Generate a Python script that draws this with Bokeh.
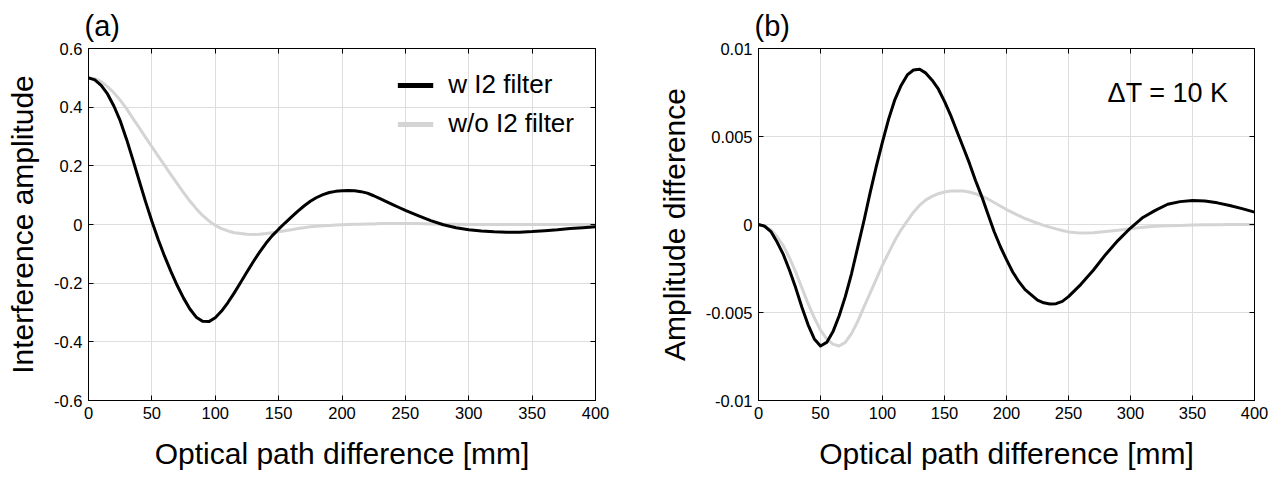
from bokeh.plotting import figure
from bokeh.layouts import row
from bokeh.models import Range1d, FixedTicker, LinearAxis, Label, Legend, LegendItem
from bokeh.embed import file_html
from bokeh.resources import INLINE

# ---------------- data ----------------
opd = [0, 5, 10, 15, 20, 25, 30, 35, 40, 45, 50, 55, 60, 65, 70, 75, 80, 85, 90, 95,
       100, 105, 110, 115, 120, 125, 130, 135, 140, 145, 150, 155, 160, 165, 170, 175,
       180, 185, 190, 195, 200, 205, 210, 215, 220, 225, 230, 235, 240, 245,
       250, 260, 270, 280, 290, 300, 310, 320, 330, 340, 350, 360, 370, 380, 390, 400]

amp_with_i2 = [0.500, 0.493, 0.474, 0.445, 0.404, 0.354, 0.291, 0.221, 0.149, 0.078,
               0.011, -0.051, -0.108, -0.160, -0.208, -0.251, -0.288, -0.316, -0.330, -0.331,
               -0.318, -0.295, -0.266, -0.233, -0.198, -0.162, -0.127, -0.094, -0.064, -0.038,
               -0.016, 0.005, 0.025, 0.045, 0.063, 0.079, 0.092, 0.102, 0.109, 0.113,
               0.115, 0.116, 0.115, 0.112, 0.107, 0.098, 0.088, 0.078, 0.068, 0.058,
               0.048, 0.030, 0.013, -0.001, -0.011, -0.018, -0.022, -0.025, -0.026, -0.026,
               -0.024, -0.021, -0.018, -0.014, -0.011, -0.008]

amp_without_i2 = [0.500, 0.497, 0.487, 0.470, 0.449, 0.424, 0.395, 0.362, 0.330, 0.297,
                  0.265, 0.233, 0.202, 0.170, 0.139, 0.109, 0.080, 0.054, 0.031, 0.012,
                  -0.003, -0.014, -0.022, -0.028, -0.031, -0.033, -0.034, -0.033, -0.031, -0.028,
                  -0.025, -0.021, -0.018, -0.014, -0.011, -0.008, -0.006, -0.004, -0.003, -0.002,
                  -0.001, 0.000, 0.001, 0.001, 0.002, 0.002, 0.003, 0.003, 0.003, 0.003,
                  0.003, 0.003, 0.002, 0.001, 0.001, 0.000, 0.000, 0.000, 0.000, 0.000,
                  0.000, 0.000, 0.000, 0.000, 0.000, 0.000]

diff_with_i2 = [0.0, -0.0001, -0.0004, -0.0010, -0.0017, -0.0026, -0.0036, -0.0047, -0.0057, -0.0065,
                -0.0069, -0.0067, -0.0061, -0.0052, -0.0041, -0.0028, -0.0013, 0.0002, 0.0018, 0.0033,
                0.0047, 0.0060, 0.0071, 0.0079, 0.0085, 0.00878, 0.00882, 0.0086, 0.0082, 0.0077,
                0.0070, 0.0062, 0.0053, 0.0044, 0.0035, 0.0025, 0.0016, 0.0006, -0.0004, -0.00125,
                -0.0020, -0.0027, -0.00325, -0.0037, -0.0040, -0.0043, -0.00445, -0.00452, -0.0045, -0.00437,
                -0.0041, -0.0034, -0.0026, -0.0017, -0.0009, -0.0002, 0.0004, 0.0008, 0.00115, 0.0013,
                0.00136, 0.00133, 0.00123, 0.00108, 0.0009, 0.0007]

diff_without_i2 = [0.0, -0.0001, -0.0003, -0.0007, -0.0012, -0.0019, -0.0027, -0.0036, -0.0045, -0.0053,
                   -0.0060, -0.0065, -0.0068, -0.0069, -0.0067, -0.0062, -0.0055, -0.0047, -0.0039, -0.0031,
                   -0.0023, -0.0016, -0.0009, -0.0003, 0.0002, 0.0007, 0.0011, 0.0014, 0.0016, 0.00175,
                   0.00185, 0.0019, 0.0019, 0.0019, 0.00185, 0.00175, 0.0016, 0.00145, 0.00125, 0.00105,
                   0.00085, 0.00067, 0.0005, 0.00034, 0.0002, 0.00007, -0.00005, -0.00015, -0.00025, -0.00034,
                   -0.00042, -0.00049, -0.00047, -0.0004, -0.00033, -0.00024, -0.00016, -0.0001, -0.00007, -0.00005,
                   -0.00003, -0.00002, -0.00001, 0.0, 0.0, 0.0]

series_names = ["w I2 filter", "w/o I2 filter"]
x_ticks = [0, 50, 100, 150, 200, 250, 300, 350, 400]
x_tick_labels = ["0", "50", "100", "150", "200", "250", "300", "350", "400"]
ya_ticks = [-0.6, -0.4, -0.2, 0, 0.2, 0.4, 0.6]
ya_tick_labels = ["-0.6", "-0.4", "-0.2", "0", "0.2", "0.4", "0.6"]
yb_ticks = [-0.01, -0.005, 0, 0.005, 0.01]
yb_tick_labels = ["-0.01", "-0.005", "0", "0.005", "0.01"]
x_label = "Optical path difference [mm]"
ya_label = "Interference amplitude"
yb_label = "Amplitude difference"
panel_a_tag = "(a)"
panel_b_tag = "(b)"
delta_t_text = "\u0394T = 10 K"

# ---------------- style ----------------
FONT = "Liberation Sans"
BLACK = "#000000"
GRAY = "#d4d4d4"
GRID = "#dddddd"
TICK_FS = "16.5px"
LABEL_FS = "30px"


def make_panel(width, border_left, border_right, ylo, yhi, yticks, ylabels, ylabel, tag, ylab_standoff):
    p = figure(width=width, height=478, x_range=Range1d(0, 400), y_range=Range1d(ylo, yhi),
               output_backend="svg", toolbar_location=None,
               min_border_left=border_left, min_border_right=border_right,
               min_border_top=48, min_border_bottom=78,
               x_axis_label=x_label, y_axis_label=ylabel)
    p.background_fill_color = "white"
    p.border_fill_color = "white"
    p.outline_line_color = BLACK
    p.outline_line_width = 1

    xov = {t: s for t, s in zip(x_ticks, x_tick_labels)}
    yov = {t: s for t, s in zip(yticks, ylabels)}

    for ax in p.xaxis:
        ax.ticker = FixedTicker(ticks=x_ticks)
        ax.major_label_overrides = xov
        ax.major_label_standoff = 6
        ax.axis_label_standoff = 15
    for ax in p.yaxis:
        ax.ticker = FixedTicker(ticks=yticks)
        ax.major_label_overrides = yov
        ax.major_label_standoff = 6
        ax.axis_label_standoff = ylab_standoff
    for ax in p.axis:
        ax.major_tick_in = 5
        ax.major_tick_out = 0
        ax.minor_tick_line_color = None
        ax.axis_line_color = BLACK
        ax.major_tick_line_color = BLACK
        ax.major_label_text_font = FONT
        ax.major_label_text_font_size = TICK_FS
        ax.major_label_text_color = BLACK
        ax.axis_label_text_font = FONT
        ax.axis_label_text_font_size = LABEL_FS
        ax.axis_label_text_font_style = "normal"
        ax.axis_label_text_color = BLACK

    # mirrored tick marks on top and right
    top = LinearAxis(ticker=FixedTicker(ticks=x_ticks), major_tick_in=5, major_tick_out=0,
                     minor_tick_line_color=None, major_label_text_color=None,
                     major_label_text_font_size="1px", major_label_standoff=0,
                     axis_line_color=BLACK)
    right = LinearAxis(ticker=FixedTicker(ticks=yticks), major_tick_in=5, major_tick_out=0,
                       minor_tick_line_color=None, major_label_text_color=None,
                       major_label_text_font_size="1px", major_label_standoff=0,
                       axis_line_color=BLACK)
    p.add_layout(top, "above")
    p.add_layout(right, "right")

    p.xgrid.grid_line_color = GRID
    p.ygrid.grid_line_color = GRID
    p.xgrid.grid_line_width = 1
    p.ygrid.grid_line_width = 1

    p.title.text = tag
    p.title.text_font = FONT
    p.title.text_font_size = "29px"
    p.title.text_font_style = "normal"
    p.title.text_color = BLACK
    p.title.align = "left"
    p.title.offset = -4
    p.title.standoff = 13
    return p


pa = make_panel(640, 88, 45, -0.6, 0.6, ya_ticks, ya_tick_labels, ya_label, panel_a_tag, 12)
pb = make_panel(630, 118, 16, -0.01, 0.01, yb_ticks, yb_tick_labels, yb_label, panel_b_tag, 12)

pa.line(opd, amp_without_i2, line_color=GRAY, line_width=3, line_join="round")
pa.line(opd, amp_with_i2, line_color=BLACK, line_width=3, line_join="round")
pb.line(opd, diff_without_i2, line_color=GRAY, line_width=3, line_join="round")
pb.line(opd, diff_with_i2, line_color=BLACK, line_width=3, line_join="round")

# legend keys: drawn with a thicker stroke, like the reference legend
nan = float("nan")
key_black = pa.line([nan], [nan], line_color=BLACK, line_width=5)
key_gray = pa.line([nan], [nan], line_color=GRAY, line_width=5)

legend = Legend(items=[LegendItem(label=series_names[0], renderers=[key_black]),
                       LegendItem(label=series_names[1], renderers=[key_gray])],
                location="top_right", label_text_font=FONT, label_text_font_size="26px",
                label_text_color=BLACK,
                glyph_width=36, glyph_height=20, label_standoff=15, spacing=8,
                padding=0, margin=21, background_fill_alpha=0, border_line_alpha=0)
pa.add_layout(legend)

pb.add_layout(Label(x=379, y=0.00746, text=delta_t_text, text_align="right",
                    text_baseline="alphabetic", text_font=FONT, text_font_size="27px",
                    text_color=BLACK))

layout = row(pa, pb)
open("out.html", "w").write(file_html(layout, INLINE))
